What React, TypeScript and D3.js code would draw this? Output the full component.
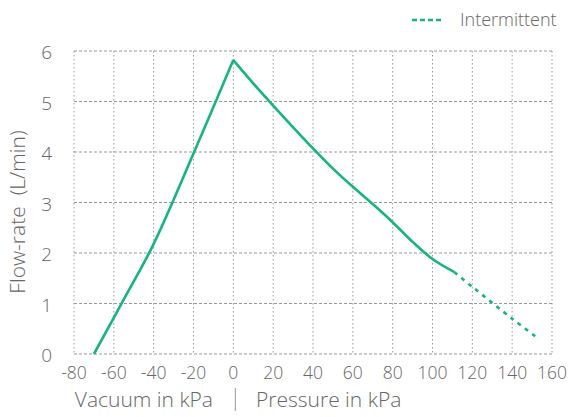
import * as d3 from "d3";
import React from "react";

// vacuum side (kPa below 0) and pressure side
const vacuumKpa = [-70, -55, -40, -20, 0];
const vacuumFlow = [0, 1.08, 2.18, 3.97, 5.82];

const pressureKpa = [0, 10, 20, 30, 40, 50, 60, 70, 80, 90, 100, 111];
const pressureFlow = [5.82, 5.36, 4.92, 4.49, 4.07, 3.67, 3.31, 2.97, 2.61, 2.22, 1.88, 1.62];

const intermittentKpa = [111, 120, 140, 152];
const intermittentFlow = [1.62, 1.33, 0.7, 0.34];

const xTicks = [-80, -60, -40, -20, 0, 20, 40, 60, 80, 100, 120, 140, 160];
const yTicks = [0, 1, 2, 3, 4, 5, 6];

const W = 569;
const H = 417;
const green = "#17b47b";
const textColor = "#666";
const font = "'Open Sans', 'Noto Sans', sans-serif";

const x = d3.scaleLinear().domain([-80, 160]).range([74, 552]);
const y = d3.scaleLinear().domain([0, 6]).range([354, 51]);

const line = d3
	.line<[number, number]>()
	.x((d) => x(d[0]))
	.y((d) => y(d[1]))
	.curve(d3.curveCatmullRom.alpha(0.5));

const zip = (a: number[], b: number[]) => a.map((v, i) => [v, b[i]] as [number, number]);

export default function App() {
	return (
		<svg
			width={W}
			height={H}
			style={{ position: "absolute", left: 0, top: 0, fontFamily: font, fontWeight: 300 }}
		>
			<rect width={W} height={H} fill="#fff" />
			{/* grid */}
			{xTicks.map((t) => (
				<line
					key={"gx" + t}
					x1={x(t)}
					x2={x(t)}
					y1={y(6)}
					y2={y(0)}
					stroke="#999"
					strokeWidth={1}
					strokeDasharray="1.5,2.5"
				/>
			))}
			{yTicks.map((t) => (
				<line
					key={"gy" + t}
					x1={x(-80)}
					x2={x(160)}
					y1={y(t)}
					y2={y(t)}
					stroke="#999"
					strokeWidth={1}
					strokeDasharray="3,2"
				/>
			))}
			{/* tick labels */}
			{yTicks.map((t) => (
				<text
					key={"ty" + t}
					x={52}
					y={y(t) + 3}
					textAnchor="end"
					dominantBaseline="middle"
					fontSize={19}
					fill={textColor}
				>
					{t}
				</text>
			))}
			{xTicks.map((t) => (
				<text
					key={"tx" + t}
					x={x(t)}
					y={379}
					textAnchor="middle"
					fontSize={17.5}
					fill={textColor}
				>
					{t}
				</text>
			))}
			{/* series */}
			<path d={line(zip(vacuumKpa, vacuumFlow)) ?? ""} fill="none" stroke={green} strokeWidth={2.6} />
			<path d={line(zip(pressureKpa, pressureFlow)) ?? ""} fill="none" stroke={green} strokeWidth={2.6} />
			<path
				d={line(zip(intermittentKpa, intermittentFlow)) ?? ""}
				fill="none"
				stroke={green}
				strokeWidth={2.6}
				strokeDasharray="4,5"
			/>
			{/* axis titles */}
			<text
				transform={`translate(25,212) rotate(-90)`}
				textAnchor="middle"
				fontSize={21}
				fill={textColor}
			>
				Flow-rate&#160;&#160;(L/min)
			</text>
			<text x={213} y={407} textAnchor="end" fontSize={21} fill={textColor}>
				Vacuum in kPa
			</text>
			<line x1={x(1)} x2={x(1)} y1={388} y2={411} stroke="#999" strokeWidth={1} />
			<text x={256} y={407} fontSize={21} fill={textColor}>
				Pressure in kPa
			</text>
			{/* legend */}
			<line x1={412} x2={441} y1={20} y2={20} stroke={green} strokeWidth={2.6} strokeDasharray="5,3" />
			<text x={460} y={26} fontSize={18} fill={textColor}>
				Intermittent
			</text>
		</svg>
	);
}
